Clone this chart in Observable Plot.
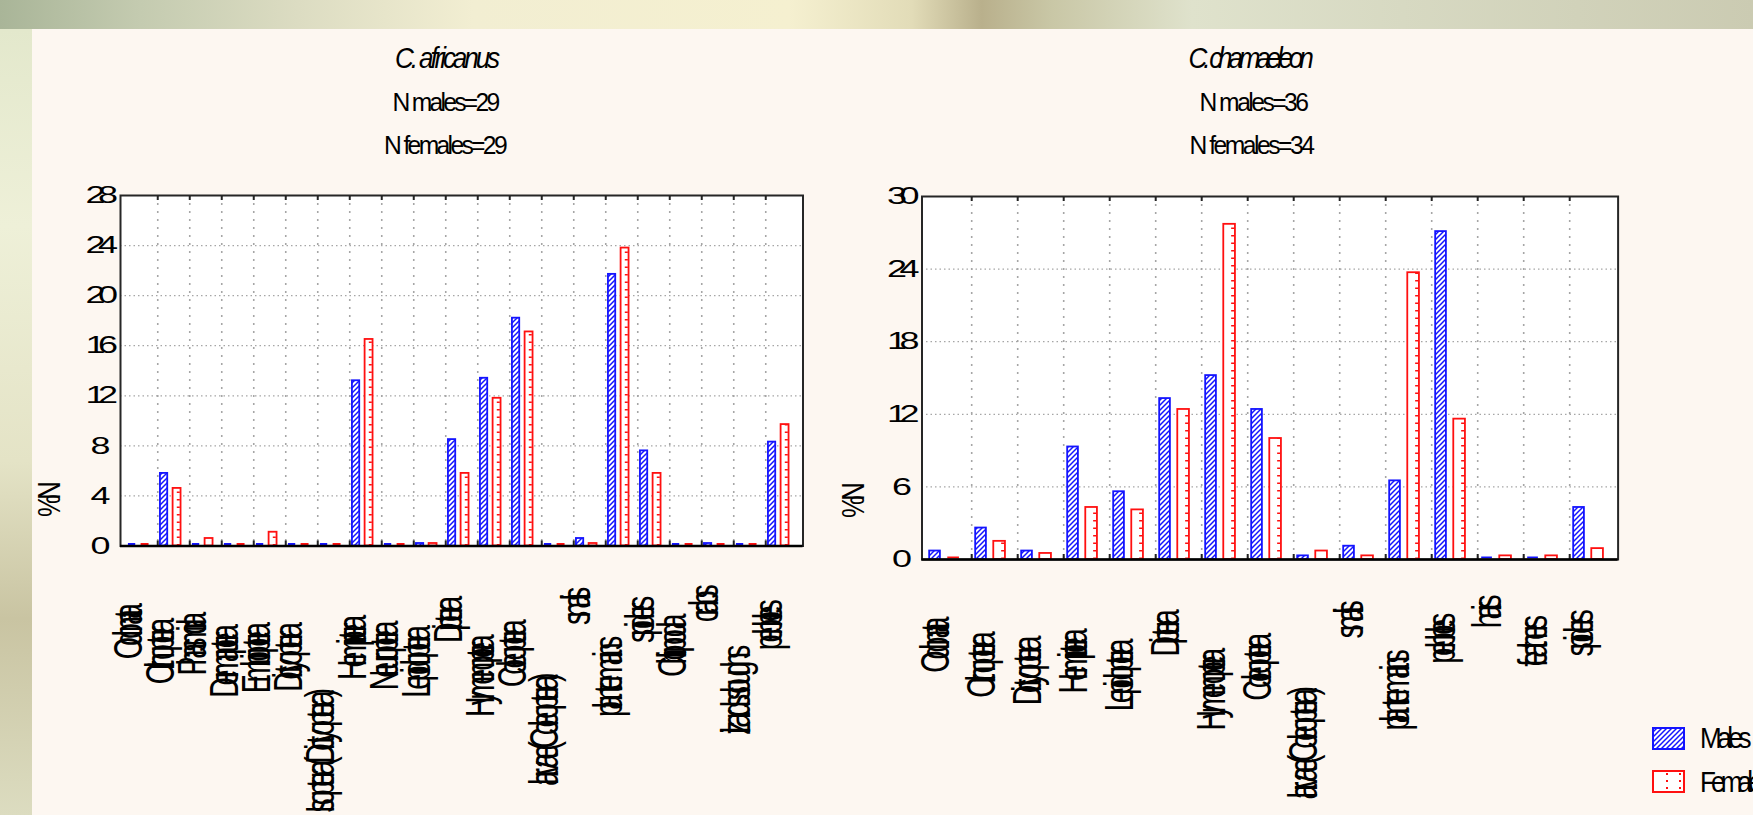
<!DOCTYPE html>
<html>
<head>
<meta charset="utf-8">
<script src="https://cdn.jsdelivr.net/npm/d3@7"></script>
<script src="https://cdn.jsdelivr.net/npm/@observablehq/plot@0.6"></script>
<style>
  html, body { margin: 0; padding: 0; width: 1753px; height: 815px; overflow: hidden; }
  body {
    position: relative;
    font-family: "Liberation Sans", Arial, sans-serif;
    background:
      linear-gradient(90deg, #a9b598 0%, #c4cbb0 8%, #dcdcc2 17%, #f2eed2 27%, #f5f0d0 45%, #e2dcb8 52%, #b9b08c 56%, #c9c7a6 60%, #dfe2cc 68%, #d7d9c2 80%, #cbcbb2 100%);
  }
  #leftstrip { position: absolute; left: 0; top: 29px; width: 32px; bottom: 0;
    background: linear-gradient(180deg, #e3e8cc 0%, #eef0d8 25%, #e4e3c6 55%, #c9c4a2 75%, #dcdcc0 100%); }
  #panel { position: absolute; left: 32px; top: 29px; right: 0; bottom: 0; background: #fdf7f1; }
  .chart { position: absolute; top: 0; }
  .chart svg { overflow: visible; }
  #overlay { position: absolute; left: 0; top: 0; }
</style>
</head>
<body>
<div id="leftstrip"></div>
<div id="panel"></div>
<svg width="0" height="0" style="position:absolute">
  <defs>
    <pattern id="maleHatch" patternUnits="userSpaceOnUse" width="5" height="5">
      <rect width="5" height="5" fill="white"></rect>
      <path d="M0,5 L5,0 M-1,1 L1,-1 M4,6 L6,4" stroke="#1414ff" stroke-width="1.5"></path>
    </pattern>
  </defs>
</svg>
<div id="left" class="chart" style="left:0px;width:860px;height:815px"></div>
<div id="right" class="chart" style="left:860px;width:893px;height:815px"></div>
<svg id="overlay" width="1753" height="815"></svg>
<script>
// ---------- data ----------
const leftCategories = ["Odonata", "Orthoptera", "Phasmida", "Dermaptera", "Embioptera", "Dictyoptera",
  "Isoptera (Dictyoptera)", "Hemiptera", "Neuroptera", "Lepidoptera", "Diptera", "Hymenoptera",
  "Coleoptera", "larvae (Coleoptera)", "snails", "plant remains", "spiders", "Chilopoda", "crabs",
  "lizards sloughs", "pebbles"];
const leftMales   = [0, 5.8, 0, 0, 0, 0, 0, 13.2, 0, 0.2, 8.5, 13.4, 18.2, 0, 0.6, 21.7, 7.6, 0, 0.2, 0, 8.3];
const leftFemales = [0, 4.6, 0.6, 0, 1.1, 0, 0, 16.5, 0, 0.2, 5.8, 11.8, 17.1, 0, 0.2, 23.8, 5.8, 0, 0, 0, 9.7];
const leftTicks = [0, 4, 8, 12, 16, 20, 24, 28];

const rightCategories = ["Odonata", "Orthoptera", "Dictyoptera", "Hemiptera", "Lepidoptera", "Diptera",
  "Hymenoptera", "Coleoptera", "larvae (Coleoptera)", "snails", "plant remains", "pebbles", "hairs",
  "feathers", "spiders"];
const rightMales   = [0.7, 2.6, 0.7, 9.3, 5.6, 13.3, 15.2, 12.4, 0.3, 1.1, 6.5, 27.1, 0, 0, 4.3];
const rightFemales = [0, 1.5, 0.5, 4.3, 4.1, 12.4, 27.7, 10.0, 0.7, 0.3, 23.7, 11.6, 0.3, 0.3, 0.9];
const rightTicks = [0, 6, 12, 18, 24, 30];

const titles = {
  left: ["C. africanus", "N males=29", "N females=29"],
  right: ["C. chamaeleon", "N males=36", "N females=34"]
};
const yLabel = "%N";
const legendLabels = ["Males", "Females"];

// ---------- styling ----------
const BLUE = "#1414ff";
const RED = "#ff1010";
const FONT = "'Liberation Sans', Arial, sans-serif";
const LABEL_SIZE = 41;
const ctx = document.createElement("canvas").getContext("2d");
ctx.font = LABEL_SIZE + "px 'Liberation Sans'";

// Condensed look of the original: glyphs narrowed by `gs` and packed tightly (overlapping)
// so the whole text takes `target` px along its own direction.
function squeezeText(t, gs, target) {
  const natural = t.getComputedTextLength();
  const n = t.getNumberOfChars();
  if (!(natural > 0) || !(n > 0)) return;
  if (n > 1) {
    const ls = (target / gs - natural) / n;
    t.setAttribute("letter-spacing", ls.toFixed(2));
  } else {
    gs = target / natural;
  }
  const svg = t.ownerSVGElement;
  const x = (t.x && t.x.baseVal && t.x.baseVal.numberOfItems) ? t.x.baseVal.getItem(0).value : 0;
  const y = (t.y && t.y.baseVal && t.y.baseVal.numberOfItems) ? t.y.baseVal.getItem(0).value : 0;
  const list = t.transform.baseVal;
  const a = svg.createSVGTransform(); a.setTranslate(x, y); list.appendItem(a);
  const b = svg.createSVGTransform(); b.setScale(gs, 1); list.appendItem(b);
  const c = svg.createSVGTransform(); c.setTranslate(-x, -y); list.appendItem(c);
}

function makeChart(cfg) {
  const {cats, males, females, ticks, yMax, width, height, ml, mr, mt, mb} = cfg;
  const data = cats.map((c, i) => ({cat: c, m: males[i], f: females[i]}));
  const pw = width - ml - mr;
  const ph = height - mt - mb;
  const bw = pw / cats.length;
  const ppu = ph / yMax;
  const mInL = 0.09 * bw, mInR = 0.67 * bw;
  const fInL = 0.48 * bw, fInR = 0.26 * bw;
  const bounds = cats.slice(0, -1);
  return Plot.plot({
    width, height,
    marginLeft: ml, marginRight: mr, marginTop: mt, marginBottom: mb,
    style: {background: "transparent", fontSize: "24px", fontFamily: FONT, color: "black", overflow: "visible"},
    x: {domain: cats, padding: 0, axis: null},
    y: {domain: [0, yMax], ticks: ticks, tickSize: 0, tickPadding: 10, label: null},
    marks: [
      Plot.frame({fill: "white"}),
      Plot.ruleY(ticks.filter(t => t > 0 && t < yMax), {stroke: "#a6a6a6", strokeDasharray: "1.5,3", strokeWidth: 1.2}),
      Plot.tickX(bounds, {x: d => d, dx: bw / 2, stroke: "#a6a6a6", strokeDasharray: "2,6", strokeWidth: 1.6}),
      Plot.barY(data.filter(d => d.m > 0), {x: "cat", y: "m", insetLeft: mInL, insetRight: mInR,
        fill: "url(#maleHatch)", stroke: BLUE, strokeWidth: 1.8}),
      Plot.tickY(data.filter(d => d.m === 0), {x: "cat", y: 0, dy: -2, insetLeft: mInL, insetRight: mInR,
        stroke: BLUE, strokeWidth: 2}),
      Plot.barY(data.filter(d => d.f > 0), {x: "cat", y: "f", insetLeft: fInL, insetRight: fInR,
        fill: "white", stroke: RED, strokeWidth: 1.8}),
      Plot.ruleX(data.filter(d => d.f > 0.9), {x: "cat", y1: 0, y2: "f", dx: (0.74 - 0.5) * bw - 3,
        stroke: RED, strokeWidth: 3, strokeDasharray: "1.5,6"}),
      Plot.tickY(data.filter(d => d.f === 0), {x: "cat", y: 0, dy: -2, insetLeft: fInL, insetRight: fInR,
        stroke: RED, strokeWidth: 2}),
      Plot.tickX(bounds, {x: d => d, dx: bw / 2, insetBottom: ph - 5, stroke: "#222", strokeWidth: 2}),
      Plot.tickX(bounds, {x: d => d, dx: bw / 2, insetTop: ph - 5, stroke: "#222", strokeWidth: 2}),
      Plot.frame({stroke: "#262626", strokeWidth: 2}),
      Plot.ruleY([0], {stroke: "black", strokeWidth: 2.5}),
      Plot.text(cats, {
        x: d => d,
        y: d => -(11 + ctx.measureText(d).width / 2) / ppu,
        text: d => d,
        rotate: -90,
        textAnchor: "middle",
        dx: -13,
        fontSize: LABEL_SIZE,
        fill: "black"
      })
    ]
  });
}

function squeezeChart(svg) {
  svg.querySelectorAll("text").forEach(t => {
    const s = t.textContent.trim();
    if (/[a-z]/i.test(s)) {
      squeezeText(t, 0.7, 0.3 * t.getComputedTextLength());
    } else {
      squeezeText(t, 1.5, s.length > 1 ? 25 : 20);
    }
  });
}

const leftPlot = makeChart({cats: leftCategories, males: leftMales, females: leftFemales, ticks: leftTicks,
  yMax: 28, width: 860, height: 815, ml: 120, mr: 57.5, mt: 195, mb: 269.5});
document.getElementById("left").appendChild(leftPlot);
squeezeChart(leftPlot);

const rightPlot = makeChart({cats: rightCategories, males: rightMales, females: rightFemales, ticks: rightTicks,
  yMax: 30, width: 893, height: 815, ml: 61.5, mr: 135.4, mt: 196, mb: 256});
document.getElementById("right").appendChild(rightPlot);
squeezeChart(rightPlot);

// ---------- titles, axis label, legend ----------
const ov = d3.select("#overlay").style("font-family", FONT);
function addText(txt, x, y, size, len, gs, opts = {}) {
  const g = ov.append("g").attr("transform", `translate(${x},${y})` + (opts.rotate ? ` rotate(${opts.rotate})` : ""));
  const t = g.append("text")
    .attr("font-size", size)
    .attr("text-anchor", opts.anchor || "middle")
    .attr("fill", "black")
    .text(txt);
  if (opts.italic) t.attr("font-style", "italic");
  squeezeText(t.node(), gs, len);
  return t;
}
addText(titles.left[0], 446, 68, 29, 102, 0.9, {italic: true});
addText(titles.left[1], 445, 111, 26, 105, 0.95);
addText(titles.left[2], 444.5, 154, 26, 121, 0.95);
addText(titles.right[0], 1249, 68, 29, 121, 0.9, {italic: true});
addText(titles.right[1], 1253, 111, 26, 107, 0.95);
addText(titles.right[2], 1251, 154, 26, 123, 0.95);

addText(yLabel, 60, 502, 32, 30, 0.8, {rotate: -90});
addText(yLabel, 864, 503, 32, 30, 0.8, {rotate: -90});

// legend
ov.append("rect").attr("x", 1653).attr("y", 728).attr("width", 31).attr("height", 21)
  .attr("fill", "url(#maleHatch)").attr("stroke", BLUE).attr("stroke-width", 2);
ov.append("rect").attr("x", 1653).attr("y", 771).attr("width", 31).attr("height", 21)
  .attr("fill", "white").attr("stroke", RED).attr("stroke-width", 2);
ov.append("line").attr("x1", 1667).attr("x2", 1667).attr("y1", 773).attr("y2", 790)
  .attr("stroke", RED).attr("stroke-width", 2).attr("stroke-dasharray", "2,5");
ov.append("line").attr("x1", 1680).attr("x2", 1680).attr("y1", 773).attr("y2", 790)
  .attr("stroke", RED).attr("stroke-width", 2).attr("stroke-dasharray", "2,5");
addText(legendLabels[0], 1700, 748, 29, 47, 0.9, {anchor: "start"});
addText(legendLabels[1], 1700, 792, 29, 66, 0.9, {anchor: "start"});
</script>
</body>
</html>
